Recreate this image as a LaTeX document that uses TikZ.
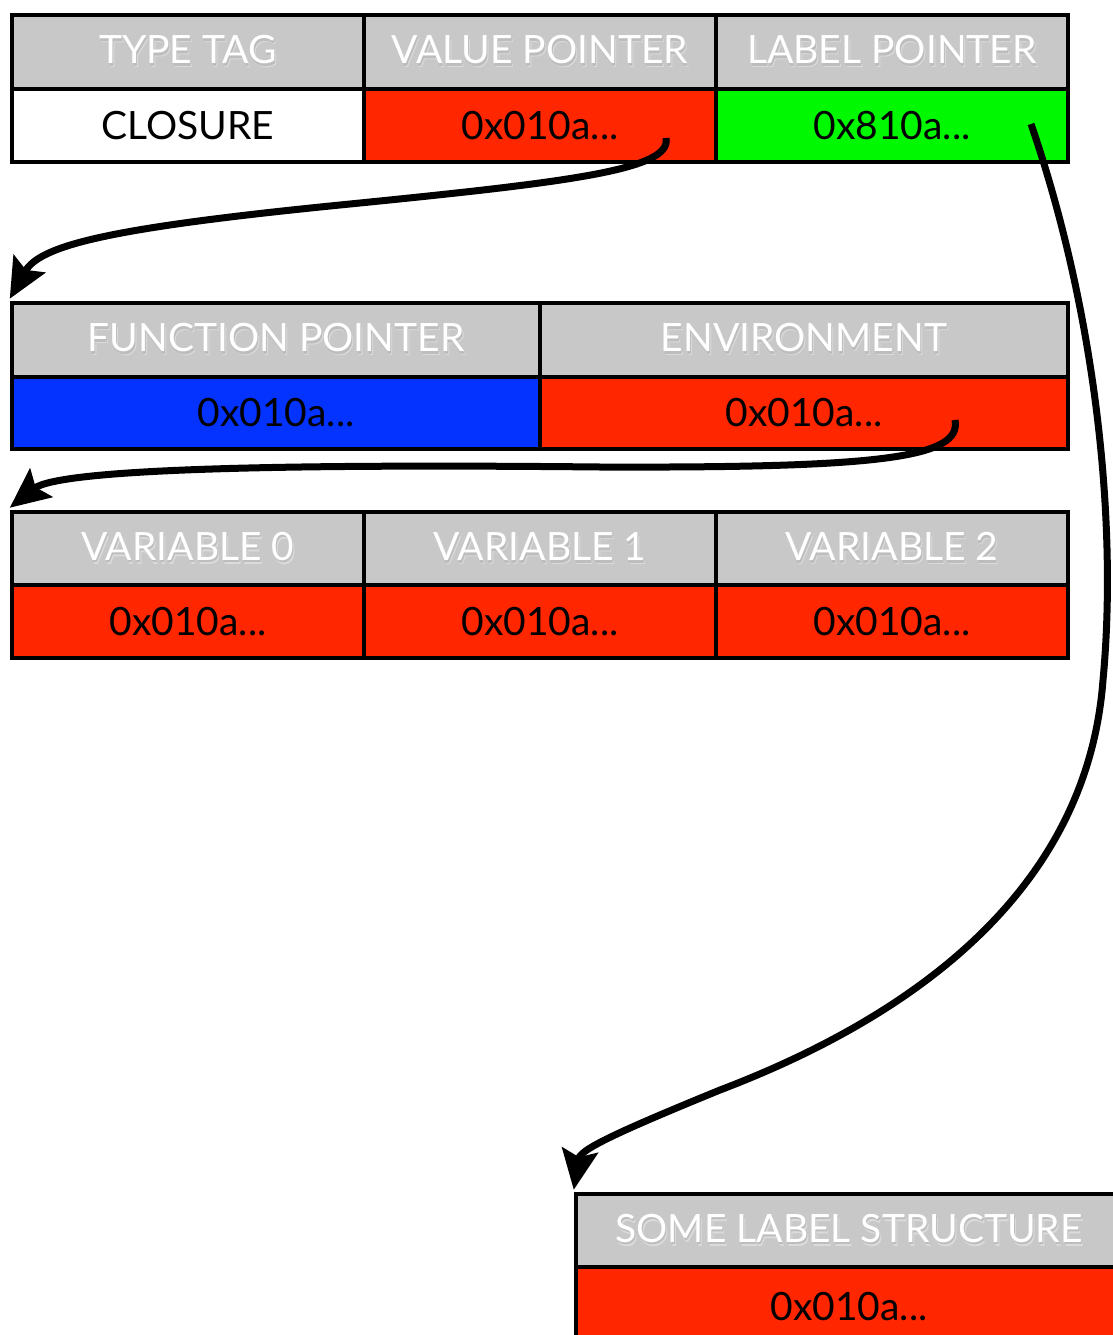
\documentclass[tikz,border=0pt]{standalone}
\usepackage{fontspec}
\setmainfont{Lato}
\usetikzlibrary{arrows.meta}

\definecolor{hdrgray}{HTML}{C8C8C8}
\definecolor{ptrred}{HTML}{FF2600}
\definecolor{ptrgreen}{HTML}{00F900}
\definecolor{ptrblue}{HTML}{0433FF}

% white heading text with a soft grey drop shadow
\newcommand\shadowed[1]{%
  \makebox[0pt][l]{\hspace{2pt}\raisebox{-4pt}{\textcolor{black!14}{#1}}}%
  \makebox[0pt][l]{\hspace{1pt}\raisebox{-2.5pt}{\textcolor{black!26}{#1}}}%
  \textcolor{white}{#1}}

\tikzset{
  cell/.style={draw=black, line width=4.5pt, rectangle, inner sep=0pt,
    font=\fontsize{39}{44}\selectfont, text=black},
  hdr/.style={cell, fill=hdrgray},
  link/.style={line width=7pt, -{Stealth[length=40pt,width=36pt,inset=7pt]}},
}

% \cellbox[style]{name}{x1}{y1}{x2}{y2}{text}
\newcommand\cellbox[7][cell]{%
  \node[#1, minimum width={#5pt-#3pt}, minimum height={#6pt-#4pt}]
    (#2) at ({(#3+#5)/2},{(#4+#6)/2+2}) {#7};}

\begin{document}
\begin{tikzpicture}[x=1pt,y=-1pt]
\useasboundingbox (0,0) rectangle (1112,1335);

% closure record
\cellbox[hdr]{typetag}{12}{13}{364}{87}{\shadowed{TYPE TAG}}
\cellbox[hdr]{valptr}{364}{13}{716}{87}{\shadowed{VALUE POINTER}}
\cellbox[hdr]{labptr}{716}{13}{1068}{87}{\shadowed{LABEL POINTER}}
\cellbox[cell,fill=white]{closure}{12}{87}{364}{160}{CLOSURE}
\cellbox[cell,fill=ptrred]{valcell}{364}{87}{716}{160}{0x010a...}
\cellbox[cell,fill=ptrgreen]{labcell}{716}{87}{1068}{160}{0x810a...}

% function value
\cellbox[hdr]{funptr}{12}{301}{540}{375}{\shadowed{FUNCTION POINTER}}
\cellbox[hdr]{envhdr}{540}{301}{1068}{375}{\shadowed{ENVIRONMENT}}
\cellbox[cell,fill=ptrblue]{funcell}{12}{375}{540}{447}{0x010a...}
\cellbox[cell,fill=ptrred]{envcell}{540}{375}{1068}{447}{0x010a...}

% environment
\cellbox[hdr]{var0}{12}{510}{364}{583}{\shadowed{VARIABLE 0}}
\cellbox[hdr]{var1}{364}{510}{716}{583}{\shadowed{VARIABLE 1}}
\cellbox[hdr]{var2}{716}{510}{1068}{583}{\shadowed{VARIABLE 2}}
\cellbox[cell,fill=ptrred]{var0cell}{12}{583}{364}{656}{0x010a...}
\cellbox[cell,fill=ptrred]{var1cell}{364}{583}{716}{656}{0x010a...}
\cellbox[cell,fill=ptrred]{var2cell}{716}{583}{1068}{656}{0x010a...}

% label structure
\cellbox[hdr]{labhdr}{576}{1192}{1122}{1265}{\shadowed{SOME LABEL STRUCTURE}}
\cellbox[cell,fill=ptrred]{labval}{576}{1265}{1122}{1345}{0x010a...}

% pointers
\coordinate (v0) at (666,138);
\coordinate (e0) at (955,420);
\coordinate (l0) at (1031,124);

\draw[link] (v0) .. controls (672,170) and (570,182) .. (340,205)
  .. controls (110,228) and (40,245) .. ([yshift=2pt]funptr.north west);
\draw[link] (e0) .. controls (962,458) and (880,468) .. (600,467)
  .. controls (300,464) and (60,468) .. ([yshift=2pt]var0.north west);
\draw[link] (l0) .. controls (1095,310) and (1118,520) .. (1103,680)
  .. controls (1088,880) and (930,1010) .. (720,1090)
  .. controls (610,1135) and (580,1150) .. ([yshift=2pt]labhdr.north west);
\end{tikzpicture}
\end{document}
